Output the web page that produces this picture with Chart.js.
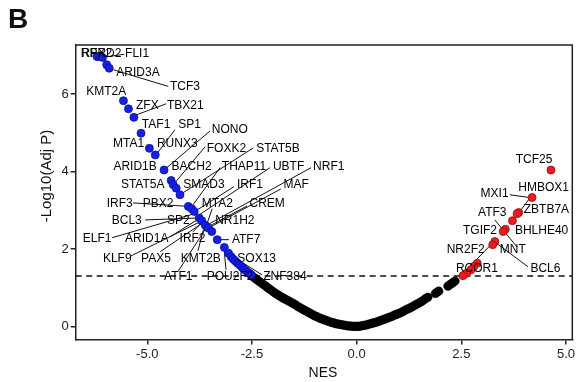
<!DOCTYPE html>
<html><head><meta charset="utf-8">
<script src="https://cdn.jsdelivr.net/npm/chart.js@4"></script>
<style>html,body{margin:0;padding:0;background:#fff;}</style>
</head><body>
<canvas id="c" width="581" height="382"></canvas>
<script>
// ---- data ----
const xTicks = [-5, -2.5, 0, 2.5, 5];
const yTicks = [0, 2, 4, 6];
const sigThreshold = 1.3;

const blueNES = [-6.20,-6.13,-6.07,-5.97,-5.91,-5.57,-5.45,-5.32,-5.15,-4.95,-4.81,-4.60,-4.43,-4.38,-4.31,-4.22,-4.02,-3.94,-3.88,-3.76,-3.70,-3.62,-3.54,-3.46,-3.33,-3.16,-3.06,-3.00,-2.95,-2.90,-2.85,-2.80,-2.75,-2.70,-2.65,-2.60,-2.55,-2.52];
const blueLogP = [6.97,6.97,6.95,6.76,6.67,5.83,5.62,5.40,4.99,4.60,4.43,4.04,3.77,3.66,3.57,3.40,3.10,3.04,2.97,2.80,2.73,2.62,2.54,2.45,2.24,2.04,1.89,1.80,1.74,1.69,1.64,1.59,1.54,1.49,1.44,1.40,1.36,1.33];

const redNES = [4.64,4.19,3.87,3.83,3.72,3.55,3.50,3.30,3.25,2.88,2.80,2.73,2.63,2.54];
const redLogP = [4.04,3.33,2.94,2.91,2.73,2.51,2.45,2.19,2.11,1.63,1.55,1.46,1.37,1.31];

const blackNES = [-2.50,-2.45,-2.40,-2.35,-2.30,-2.25,-2.20,-2.15,-2.10,-2.05,-2.00,-1.95,-1.90,-1.85,-1.80,-1.75,-1.70,-1.65,-1.60,-1.55,-1.50,-1.45,-1.40,-1.35,-1.30,-1.25,-1.20,-1.15,-1.10,-1.05,-1.00,-0.95,-0.90,-0.85,-0.80,-0.75,-0.70,-0.65,-0.60,-0.55,-0.50,-0.45,-0.40,-0.35,-0.30,-0.25,-0.20,-0.15,-0.10,-0.05,0.00,0.05,0.10,0.15,0.20,0.25,0.30,0.35,0.40,0.45,0.50,0.55,0.60,0.65,0.70,0.75,0.80,0.85,0.90,0.95,1.00,1.05,1.10,1.15,1.20,1.25,1.30,1.35,1.40,1.45,1.50,1.55,1.60,1.65,1.70,1.88,1.92,1.96,2.18,2.22,2.26,2.30,2.35];
const blackLogP = [1.30,1.26,1.22,1.18,1.14,1.10,1.06,1.02,0.98,0.94,0.90,0.86,0.83,0.79,0.76,0.73,0.70,0.67,0.64,0.61,0.58,0.55,0.51,0.48,0.45,0.42,0.39,0.36,0.33,0.30,0.27,0.25,0.22,0.20,0.18,0.16,0.14,0.12,0.10,0.09,0.07,0.06,0.05,0.04,0.03,0.02,0.01,0.01,0.00,0.00,0.00,0.00,0.01,0.02,0.03,0.04,0.06,0.07,0.09,0.10,0.12,0.14,0.16,0.18,0.20,0.22,0.24,0.26,0.29,0.31,0.33,0.35,0.38,0.41,0.44,0.46,0.49,0.52,0.55,0.58,0.61,0.64,0.68,0.72,0.75,0.85,0.88,0.91,1.04,1.07,1.10,1.13,1.17];

// gene labels: text, NES position (left edge), -log10 position (middle)
const labelNames = ["RPRD2","RFX2","FLI1","ARID3A","TCF3","KMT2A","ZFX","TBX21","TAF1","SP1","NONO","MTA1","RUNX3","FOXK2","STAT5B","ARID1B","BACH2","THAP11","UBTF","NRF1","STAT5A","SMAD3","IRF1","MAF","IRF3","PBX2","MTA2","CREM","BCL3","SP2","NR1H2","ELF1","ARID1A","IRF2","ATF7","KLF9","PAX5","KMT2B","SOX13","ATF1","POU2F2","ZNF384",
  "TCF25","HMBOX1","MXI1","ZBTB7A","ATF3","TGIF2","BHLHE40","NR2F2","MNT","BCL6","RCOR1"];
const labelNES = [-6.59,-6.57,-5.53,-5.74,-4.46,-6.46,-5.27,-4.53,-5.13,-4.26,-3.46,-5.82,-4.77,-3.58,-2.40,-5.81,-4.42,-3.22,-2.00,-1.04,-5.63,-4.14,-2.86,-1.75,-5.97,-5.11,-3.70,-2.56,-5.85,-4.53,-3.38,-6.54,-5.53,-4.23,-2.98,-6.06,-5.15,-4.20,-2.85,-4.60,-3.58,-2.23,
  3.80,3.86,2.96,3.99,2.90,2.54,3.78,2.15,3.42,4.15,2.37];
const labelLogP = [7.04,7.05,7.04,6.56,6.18,6.06,5.70,5.70,5.22,5.22,5.08,4.72,4.71,4.59,4.58,4.13,4.13,4.13,4.13,4.13,3.66,3.66,3.66,3.66,3.18,3.18,3.18,3.18,2.73,2.73,2.73,2.26,2.26,2.26,2.24,1.76,1.76,1.76,1.76,1.29,1.29,1.29,
  4.30,3.59,3.42,3.01,2.93,2.48,2.48,1.98,1.98,1.50,1.50];

// leader lines: [fromNES, fromLogP, toNES, toLogP]
const leaders = [
  [-6.07,6.95,-5.55,7.03],[-5.81,6.63,-4.50,6.20],[-5.25,5.47,-4.55,5.75],[-4.34,5.08,-4.77,4.46],
  [-3.50,5.05,-4.60,4.04],[-3.62,4.64,-4.38,3.66],[-2.47,4.61,-4.22,3.40],[-3.26,4.10,-3.91,3.14],
  [-2.07,4.10,-3.76,2.88],[-1.09,4.10,-3.62,2.59],[-2.93,3.61,-3.88,2.96],[-1.81,3.55,-3.54,2.54],
  [-5.34,3.19,-4.02,3.10],[-3.45,3.04,-3.60,2.57],[-2.62,3.11,-3.59,2.55],[-5.05,2.75,-3.76,2.80],
  [-5.84,2.29,-3.81,2.93],[-4.46,2.31,-3.74,2.80],[-3.91,2.44,-3.69,2.70],[-3.05,2.24,-3.31,2.24],
  [-5.39,1.82,-3.74,2.70],[-4.69,1.93,-3.71,2.65],[-3.79,1.95,-3.64,2.59],[-2.88,1.77,-3.07,1.90],
  [-4.26,1.43,-3.59,2.55],[-3.12,1.46,-3.17,2.03],[-2.26,1.33,-2.95,1.80],
  [4.21,3.42,3.87,2.93],[3.66,3.40,4.18,3.32],[3.30,2.75,3.83,2.05],[3.25,2.16,2.51,1.33],[4.09,1.54,3.30,2.18]
];

const pts = (xs, ys) => xs.map((x, i) => ({x: x, y: ys[i]}));

const FONT = '"Liberation Sans", Arial, sans-serif';

const annot = {
  id: 'annot',
  beforeDatasetsDraw(chart) {
    const {ctx, chartArea: a, scales: {x, y}} = chart;
    ctx.save();
    ctx.strokeStyle = '#111'; ctx.lineWidth = 1.4; ctx.setLineDash([6, 4.5]);
    const yy = y.getPixelForValue(sigThreshold);
    ctx.beginPath(); ctx.moveTo(a.left, yy); ctx.lineTo(a.right, yy); ctx.stroke();
    ctx.setLineDash([]);
    ctx.lineWidth = 1; ctx.strokeStyle = '#111';
    leaders.forEach(l => {
      ctx.beginPath();
      ctx.moveTo(x.getPixelForValue(l[0]), y.getPixelForValue(l[1]));
      ctx.lineTo(x.getPixelForValue(l[2]), y.getPixelForValue(l[3]));
      ctx.stroke();
    });
    ctx.restore();
  },
  afterDatasetsDraw(chart) {
    const {ctx, chartArea: a, scales: {x, y}} = chart;
    ctx.save();
    ctx.fillStyle = '#000';
    ctx.font = '12px ' + FONT;
    ctx.textBaseline = 'middle'; ctx.textAlign = 'left';
    labelNames.forEach((t, i) => {
      ctx.fillText(t, x.getPixelForValue(labelNES[i]), y.getPixelForValue(labelLogP[i]));
    });
    ctx.strokeStyle = '#222'; ctx.lineWidth = 1.5;
    ctx.beginPath();
    ctx.moveTo(a.left, a.top); ctx.lineTo(a.right, a.top); ctx.lineTo(a.right, a.bottom);
    ctx.stroke();
    ctx.fillStyle = '#111';
    ctx.font = '14px ' + FONT;
    ctx.textAlign = 'center'; ctx.textBaseline = 'middle';
    ctx.fillText('NES', (a.left + a.right) / 2 - 1, 373);
    ctx.save();
    ctx.translate(47, 176); ctx.rotate(-Math.PI / 2);
    ctx.font = '15px ' + FONT;
    ctx.fillText('-Log10(Adj P)', 0, 0);
    ctx.restore();
    ctx.font = 'bold 28px ' + FONT;
    ctx.textAlign = 'left'; ctx.textBaseline = 'alphabetic';
    ctx.fillText('B', 8, 28);
    ctx.restore();
  }
};

new Chart(document.getElementById('c'), {
  type: 'scatter',
  data: {
    datasets: [
      {label: 'up', data: pts(redNES, redLogP), backgroundColor: '#e81e1e', borderColor: '#9a0c0c', borderWidth: 0.8, pointRadius: 4, order: 1},
      {label: 'down', data: pts(blueNES, blueLogP), backgroundColor: '#1420e6', borderColor: '#0a109a', borderWidth: 0.8, pointRadius: 4, order: 2},
      {label: 'ns', data: pts(blackNES, blackLogP), backgroundColor: '#000', borderColor: '#000', borderWidth: 0.5, pointRadius: 4.3, order: 3}
    ]
  },
  options: {
    responsive: false,
    animation: false,
    devicePixelRatio: 1,
    layout: {padding: {left: 0, top: 45, right: 8.7, bottom: 0}},
    plugins: {legend: {display: false}, tooltip: {enabled: false}},
    scales: {
      x: {
        type: 'linear', min: -6.71, max: 5.15,
        afterBuildTicks: s => { s.ticks = xTicks.map(v => ({value: v})); },
        afterFit: s => { s.height = 42.5; },
        ticks: {color: '#222', font: {size: 13, family: FONT}, padding: 2, maxRotation: 0,
          callback: v => Number(v).toFixed(1)},
        grid: {display: true, drawOnChartArea: false, drawTicks: true, tickLength: 5, color: '#222', lineWidth: 1.5},
        border: {display: true, color: '#222', width: 1.5}
      },
      y: {
        type: 'linear', min: -0.34, max: 7.27,
        afterBuildTicks: s => { s.ticks = yTicks.map(v => ({value: v})); },
        afterFit: s => { s.width = 75.7; },
        ticks: {color: '#222', font: {size: 13, family: FONT}, padding: 2,
          callback: v => String(v)},
        grid: {display: true, drawOnChartArea: false, drawTicks: true, tickLength: 5, color: '#222', lineWidth: 1.5},
        border: {display: true, color: '#222', width: 1.5}
      }
    }
  },
  plugins: [annot]
});
</script>
</body></html>
